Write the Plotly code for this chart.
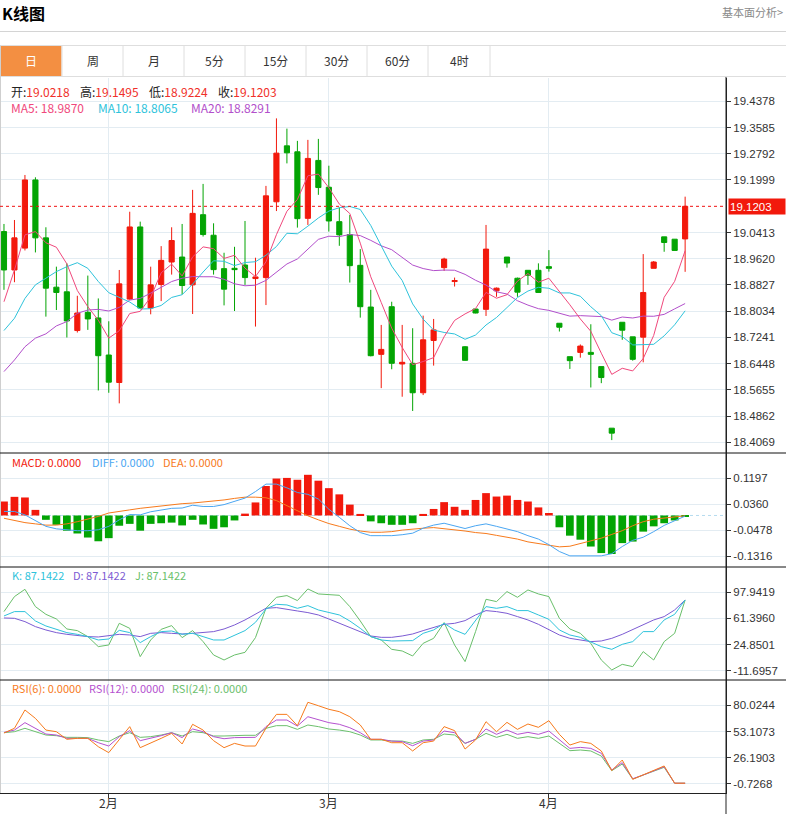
import plotly.graph_objects as go
import pandas as pd

# ---------------- data ----------------
opens = [19.044, 18.928, 18.994, 19.200, 19.025, 18.876, 18.862, 18.745, 18.800, 18.783,
         18.671, 18.588, 18.840, 19.058, 18.813, 18.884, 18.952, 18.967, 18.883, 19.095,
         19.033, 18.932, 18.933, 18.943, 18.902, 18.905, 19.134, 19.303, 19.285, 19.084,
         19.259, 19.178, 19.074, 19.035, 18.942, 18.816, 18.673, 18.817, 18.644, 18.646,
         18.557, 18.715, 18.935, 18.893, 18.696, 18.810, 18.809, 18.865, 18.967, 18.903,
         18.927, 18.927, 18.938, 18.767, 18.666, 18.679, 18.679, 18.636, 18.450, 18.770,
         18.726, 18.725, 18.933, 19.028, 19.021, 19.0218]
highs = [19.067, 19.079, 19.215, 19.208, 19.057, 18.938, 18.948, 18.850, 18.911, 18.842,
         18.773, 18.928, 19.104, 19.074, 18.938, 19.000, 19.057, 19.067, 19.170, 19.188,
         19.069, 18.980, 18.998, 19.076, 18.965, 19.182, 19.386, 19.355, 19.318, 19.321,
         19.324, 19.243, 19.117, 19.094, 18.991, 18.868, 18.762, 18.832, 18.762, 18.752,
         18.790, 18.780, 18.965, 18.905, 18.698, 18.810, 19.064, 18.875, 18.967, 18.905,
         18.927, 18.948, 18.988, 18.767, 18.666, 18.703, 18.764, 18.636, 18.450, 18.770,
         18.726, 18.976, 18.955, 19.028, 19.021, 19.1495]
lows = [18.868, 18.891, 18.987, 18.981, 18.787, 18.807, 18.724, 18.739, 18.747, 18.564,
        18.557, 18.525, 18.838, 18.811, 18.794, 18.834, 18.914, 18.854, 18.795, 19.029,
        18.914, 18.821, 18.804, 18.883, 18.757, 18.822, 19.106, 19.250, 19.056, 19.064,
        19.155, 19.044, 19.001, 18.890, 18.784, 18.667, 18.571, 18.628, 18.545, 18.502,
        18.550, 18.639, 18.925, 18.878, 18.654, 18.797, 18.789, 18.847, 18.935, 18.847,
        18.883, 18.860, 18.923, 18.742, 18.629, 18.663, 18.573, 18.586, 18.414, 18.717,
        18.654, 18.649, 18.933, 18.983, 18.987, 18.9224]
closes = [18.928, 19.025, 19.200, 19.025, 18.873, 18.860, 18.774, 18.798, 18.780, 18.669,
          18.589, 18.886, 19.058, 18.813, 18.883, 18.957, 19.017, 18.881, 19.099, 19.035,
          18.929, 18.870, 18.929, 18.905, 18.907, 19.152, 19.281, 19.282, 19.083, 19.265,
          19.177, 19.076, 19.034, 18.941, 18.817, 18.669, 18.688, 18.646, 18.649, 18.557,
          18.717, 18.747, 18.961, 18.896, 18.655, 18.798, 18.991, 18.873, 18.949, 18.861,
          18.912, 18.860, 18.933, 18.755, 18.654, 18.698, 18.673, 18.603, 18.435, 18.746,
          18.658, 18.860, 18.952, 19.011, 18.987, 19.1203]

# moving-average values at the start of the window
ma5_lead = [18.832, 18.928, 19.034, 19.044]
ma10_lead = [18.745, 18.782, 18.842, 18.883, 18.903, 18.923, 18.938, 18.950, 18.933]
ma20_lead = [18.621, 18.656, 18.696, 18.722, 18.735, 18.759, 18.772, 18.797, 18.807, 18.809,
             18.804, 18.815, 18.837, 18.842, 18.858, 18.875, 18.893, 18.903, 18.908]

macd_hist = [0.045, 0.060, 0.058, 0.018, -0.014, -0.030, -0.049, -0.058, -0.071, -0.083,
             -0.073, -0.033, -0.027, -0.049, -0.027, -0.025, -0.023, -0.032, -0.014, -0.029,
             -0.043, -0.038, -0.016, 0.006, 0.042, 0.095, 0.119, 0.121, 0.115, 0.131,
             0.112, 0.088, 0.068, 0.035, 0.005, -0.019, -0.025, -0.030, -0.030, -0.025,
             0.005, 0.021, 0.043, 0.028, 0.018, 0.050, 0.072, 0.061, 0.064, 0.050,
             0.045, 0.026, 0.008, -0.038, -0.065, -0.078, -0.100, -0.121, -0.124, -0.089,
             -0.084, -0.052, -0.035, -0.025, -0.016, -0.002]
diff_vals = [0.013, 0.013, 0.002, -0.016, -0.035, -0.043, -0.047, -0.049, -0.049, -0.046,
             -0.035, -0.014, 0.003, 0.002, 0.012, 0.018, 0.023, 0.024, 0.033, 0.029,
             0.029, 0.035, 0.045, 0.056, 0.077, 0.101, 0.101, 0.089, 0.074, 0.068,
             0.053, 0.020, -0.006, -0.033, -0.055, -0.065, -0.065, -0.065, -0.062, -0.057,
             -0.041, -0.031, -0.025, -0.033, -0.042, -0.033, -0.027, -0.035, -0.044, -0.052,
             -0.065, -0.076, -0.094, -0.116, -0.130, -0.130, -0.130, -0.130, -0.123, -0.100,
             -0.080, -0.070, -0.052, -0.032, -0.017, -0.002]
dea_vals = [-0.009, -0.017, -0.023, -0.027, -0.031, -0.031, -0.027, -0.020, -0.012, -0.003,
            0.008, 0.014, 0.018, 0.023, 0.027, 0.031, 0.034, 0.038, 0.040, 0.043,
            0.047, 0.050, 0.055, 0.059, 0.059, 0.057, 0.048, 0.031, 0.015, -0.001,
            -0.014, -0.026, -0.035, -0.044, -0.050, -0.054, -0.054, -0.052, -0.047, -0.043,
            -0.041, -0.039, -0.042, -0.046, -0.050, -0.055, -0.058, -0.064, -0.070, -0.076,
            -0.085, -0.091, -0.097, -0.101, -0.099, -0.091, -0.082, -0.073, -0.061, -0.049,
            -0.033, -0.020, -0.012, -0.008, -0.003, -0.001]

k_vals = [64.8, 70.9, 70.9, 57.8, 50.8, 46.6, 41.5, 39.1, 35.9, 31.2,
          32.6, 44.7, 41.5, 27.5, 35.9, 42.9, 43.8, 39.1, 40.5, 35.9,
          31.2, 31.2, 37.3, 44.3, 55.9, 74.6, 81.1, 80.2, 75.5, 79.3,
          73.2, 69.9, 66.2, 57.8, 47.5, 35.9, 31.2, 29.8, 29.8, 30.3,
          40.5, 45.2, 54.5, 45.2, 39.1, 59.2, 77.9, 75.5, 77.9, 72.3,
          72.3, 66.2, 60.1, 45.2, 38.2, 34.9, 28.9, 21.9, 18.1, 25.1,
          28.9, 42.9, 42.9, 59.2, 67.1, 87.1422]
d_vals = [62.0, 61.5, 56.9, 49.9, 45.2, 41.5, 39.1, 37.3, 35.9, 35.4,
          36.8, 39.1, 38.2, 35.9, 40.5, 41.5, 40.5, 39.6, 40.5, 41.5,
          42.9, 46.6, 52.2, 59.2, 67.1, 75.5, 76.5, 74.6, 71.8, 69.5,
          66.2, 60.6, 54.5, 48.5, 41.9, 36.8, 34.9, 34.9, 36.8, 39.6,
          44.3, 48.5, 53.1, 54.5, 58.3, 66.2, 72.3, 70.9, 68.5, 63.9,
          59.2, 53.1, 46.1, 38.2, 33.5, 30.7, 28.9, 29.8, 33.5, 39.1,
          46.1, 52.2, 59.2, 63.9, 73.2, 87.1422]
j_vals = [70.9, 91.9, 102.1, 77.9, 67.1, 60.6, 46.6, 44.3, 35.9, 21.9,
          24.2, 54.5, 47.5, 7.9, 31.2, 46.1, 51.3, 34.5, 44.3, 28.9,
          10.2, 3.2, 10.2, 13.9, 34.5, 75.5, 90.9, 93.3, 86.3, 102.6,
          95.6, 94.2, 93.7, 77.9, 57.8, 35.9, 31.2, 18.1, 15.8, 8.8,
          26.5, 33.5, 55.5, 24.2, 0.9, 42.9, 88.1, 84.9, 98.9, 90.9,
          101.2, 95.6, 91.9, 61.5, 46.6, 40.5, 26.5, 3.2, -10.8, -2.9,
          -6.1, 14.9, 3.2, 28.9, 40.5, 87.1422]

rsi6 = [51.6, 56.4, 75.2, 66.6, 54.6, 52.9, 45.1, 46.1, 46.1, 37.5,
        31.4, 44.4, 58.1, 36.5, 40.9, 46.1, 51.2, 40.3, 60.5, 54.6,
        43.7, 36.5, 40.9, 38.2, 38.2, 56.4, 70.7, 70.7, 59.1, 83.1,
        79.6, 75.9, 73.5, 68.3, 59.8, 45.1, 45.1, 41.6, 41.6, 33.1,
        41.6, 43.3, 58.1, 54.0, 35.1, 44.4, 63.2, 52.9, 62.5, 55.3,
        60.8, 57.4, 64.2, 50.2, 39.2, 42.7, 40.9, 33.1, 12.9, 23.8,
        4.0, 8.4, 12.5, 17.7, 0.0, 0.0]
rsi12 = [52.2, 54.6, 62.2, 56.4, 50.5, 49.5, 46.1, 46.1, 46.1, 41.6,
         38.2, 47.8, 54.0, 43.7, 46.1, 48.8, 51.9, 46.8, 55.7, 52.9,
         47.8, 45.7, 46.8, 46.8, 47.1, 58.1, 64.9, 64.9, 58.7, 68.3,
         65.6, 62.2, 60.5, 57.0, 51.9, 45.1, 45.1, 43.3, 42.7, 38.5,
         43.3, 44.4, 53.6, 51.9, 40.9, 45.1, 55.7, 50.2, 54.6, 50.2,
         52.2, 50.2, 53.6, 44.4, 35.8, 36.8, 35.8, 30.7, 13.6, 21.1,
         4.6, 8.4, 12.5, 17.0, 0.0, 0.0]
rsi24 = [51.9, 52.9, 56.4, 52.9, 49.5, 48.8, 47.1, 47.1, 46.8, 44.4,
         42.7, 48.5, 51.9, 47.1, 47.8, 49.5, 51.9, 48.5, 52.9, 51.9,
         48.5, 48.5, 49.2, 49.2, 49.2, 56.4, 59.1, 59.1, 55.3, 59.8,
         58.1, 55.7, 54.6, 52.9, 49.5, 44.4, 44.4, 43.3, 43.3, 40.9,
         44.4, 45.1, 50.5, 49.5, 40.9, 45.1, 51.2, 47.1, 50.2, 46.1,
         47.8, 46.1, 48.5, 40.9, 33.4, 34.1, 33.1, 27.9, 12.9, 19.7,
         4.3, 8.4, 12.5, 16.3, 0.0, 0.0]

# axis tick labels
price_ticks = [19.4378, 19.3585, 19.2792, 19.1999, 19.0413, 18.9620, 18.8827,
               18.8034, 18.7241, 18.6448, 18.5655, 18.4862, 18.4069]
macd_ticks = [0.1197, 0.0360, -0.0478, -0.1316]
kdj_ticks = [97.9419, 61.3960, 24.8501, -11.6957]
rsi_ticks = [80.0244, 53.1073, 26.1903, -0.7268]
tab_labels = ["日", "周", "月", "5分", "15分", "30分", "60分", "4时"]

# legend texts as shown in the picture
ma_legend = [("MA5", 18.9870), ("MA10", 18.8065), ("MA20", 18.8291)]
macd_legend = [("MACD", 0.0), ("DIFF", 0.0), ("DEA", 0.0)]
kdj_legend = [("K", 87.1422), ("D", 87.1422), ("J", 87.1422)]
rsi_legend = [("RSI(6)", 0.0), ("RSI(12)", 0.0), ("RSI(24)", 0.0)]

# ---------------- derived ----------------
dates = pd.bdate_range("2024-01-18", periods=len(closes))
xi = list(range(len(closes)))
month_idx = [i for i in range(1, len(dates)) if dates[i].month != dates[i - 1].month]
month_labels = [f"{dates[i].month}月" for i in month_idx]

s = pd.Series(closes)
ma5 = s.rolling(5).mean().tolist(); ma5[:len(ma5_lead)] = ma5_lead
ma10 = s.rolling(10).mean().tolist(); ma10[:len(ma10_lead)] = ma10_lead
ma20 = s.rolling(20).mean().tolist(); ma20[:len(ma20_lead)] = ma20_lead

# ---------------- style ----------------
RED = "#f2190c"
GREEN = "#03a403"
GRID = "#e3ecf2"
C_MA5, C_MA10, C_MA20 = "#f0487c", "#2ec3db", "#b24fcb"
C_DIFF, C_DEA = "#4aa6f2", "#f77a1c"
C_K, C_D, C_J = "#2ec3db", "#7c5bd3", "#69bf6a"
C_R6, C_R12, C_R24 = "#f77a1c", "#b552cf", "#6cc06c"
CJK = "Noto Sans CJK SC, Noto Sans, sans-serif"
NUM = "Liberation Sans, Arial, sans-serif"

PW, TOP, BOT = 726.0, 78.0, 793.0
PH = BOT - TOP


def pxx(px):
    return px / PW


def pxy(py):
    return (BOT - py) / PH


fig = go.Figure()

# main panel
fig.add_trace(go.Candlestick(
    x=xi, open=opens, high=highs, low=lows, close=closes,
    increasing=dict(line=dict(color=RED, width=1), fillcolor=RED),
    decreasing=dict(line=dict(color=GREEN, width=1), fillcolor=GREEN),
    whiskerwidth=0, xaxis="x", yaxis="y", hoverinfo="skip"))
for vals, col in [(ma20, C_MA20), (ma10, C_MA10), (ma5, C_MA5)]:
    fig.add_trace(go.Scatter(x=xi, y=vals, mode="lines", line=dict(color=col, width=1),
                             xaxis="x", yaxis="y", hoverinfo="skip"))

# MACD panel
fig.add_trace(go.Bar(x=xi, y=macd_hist, width=0.74,
                     marker=dict(color=[RED if v >= 0 else GREEN for v in macd_hist], line=dict(width=0)),
                     xaxis="x2", yaxis="y2", hoverinfo="skip"))
fig.add_trace(go.Scatter(x=xi, y=dea_vals, mode="lines", line=dict(color=C_DEA, width=1),
                         xaxis="x2", yaxis="y2", hoverinfo="skip"))
fig.add_trace(go.Scatter(x=xi, y=diff_vals, mode="lines", line=dict(color=C_DIFF, width=1),
                         xaxis="x2", yaxis="y2", hoverinfo="skip"))

# KDJ panel
for vals, col in [(j_vals, C_J), (d_vals, C_D), (k_vals, C_K)]:
    fig.add_trace(go.Scatter(x=xi, y=vals, mode="lines", line=dict(color=col, width=1),
                             xaxis="x3", yaxis="y3", hoverinfo="skip"))

# RSI panel
for vals, col in [(rsi24, C_R24), (rsi12, C_R12), (rsi6, C_R6)]:
    fig.add_trace(go.Scatter(x=xi, y=vals, mode="lines", line=dict(color=col, width=1),
                             xaxis="x4", yaxis="y4", hoverinfo="skip"))

XR = [-0.38, 68.9]
common_x = dict(range=XR, tickvals=month_idx, showgrid=True,
                gridcolor=GRID, gridwidth=1, zeroline=False, fixedrange=True,
                showticklabels=False)


def yax(domain, rng, ticks, anchor):
    return dict(domain=domain, range=rng, side="right", anchor=anchor,
                tickvals=ticks, ticktext=[f"{t:.4f}" for t in ticks],
                ticks="outside", ticklen=4, tickcolor="#333", showline=True,
                linecolor="#222", linewidth=1, showgrid=True, gridcolor=GRID,
                zeroline=False, fixedrange=True,
                tickfont=dict(family=NUM, size=11.5, color="#333"))


d_rsi = [0, pxy(680)]
d_kdj = [pxy(680), pxy(567)]
d_macd = [pxy(567), pxy(453)]
d_main = [pxy(453), 1]

shapes = []


def hline(py, x0=0, x1=786, color="#000", width=1, dash="solid"):
    shapes.append(dict(type="line", xref="paper", yref="paper", x0=pxx(x0), x1=pxx(x1),
                       y0=pxy(py), y1=pxy(py), line=dict(color=color, width=width, dash=dash)))


def vline(px, y0, y1, color="#000", width=1):
    shapes.append(dict(type="line", xref="paper", yref="paper", x0=pxx(px), x1=pxx(px),
                       y0=pxy(y0), y1=pxy(y1), line=dict(color=color, width=width)))


# header lines and tab bar
hline(31.5, color="#d4d4d4")
shapes.append(dict(type="rect", xref="paper", yref="paper", x0=pxx(1), x1=pxx(61.5),
                   y0=pxy(76), y1=pxy(46), fillcolor="#f38f42", line=dict(width=0), layer="below"))
hline(45.5, color="#dedede")
hline(76.5, color="#dedede")
tab_edges = [62, 123, 184, 245, 306, 367, 428, 490]
for e in tab_edges:
    vline(e, 45.5, 76.5, color="#dedede")
vline(0.5, 45.5, 793, color="#cfcfcf")

# panel separators and right axis line
hline(453, color="#111")
hline(567, color="#111")
hline(680, color="#111")
vline(PW, 77, 814, color="#222")

# last close dotted line and MACD zero line
shapes.append(dict(type="line", xref="paper", yref="y", x0=0, x1=1, y0=closes[-1], y1=closes[-1],
                   line=dict(color="#f01010", width=1, dash="dot")))
shapes.append(dict(type="line", xref="paper", yref="y2", x0=0, x1=1, y0=0, y1=0,
                   line=dict(color="#b5dcef", width=1, dash="dot"), layer="below"))

ann = []


def text(px, py, t, size=12, color="#333", family=CJK, xanchor="left"):
    ann.append(dict(xref="paper", yref="paper", x=pxx(px), y=pxy(py), text=t, showarrow=False,
                    xanchor=xanchor, yanchor="middle", font=dict(size=size, color=color, family=family)))


text(0, 13, "<b>K线图</b>", size=16, color="#000")
text(785, 12, "基本面分析>", size=11, color="#8a8a8a", xanchor="right")

edges = [0] + tab_edges
for i, lab in enumerate(tab_labels):
    cx = (edges[i] + edges[i + 1]) / 2
    text(cx, 61, lab, size=12, color="#fff" if i == 0 else "#333", xanchor="center")

VAL = "#f0302a"
ohlc = [("开", opens[-1], 9), ("高", highs[-1], 78), ("低", lows[-1], 147), ("收", closes[-1], 216)]
for lab, v, px in ohlc:
    text(px, 92, f"{lab}:<span style='color:{VAL}'>{v:.4f}</span>", color="#222")

for (lab, v), px, col in zip(ma_legend, [9, 96, 189], [C_MA5, C_MA10, C_MA20]):
    text(px, 107, f"{lab}: {v:.4f}", color=col)
for (lab, v), px, col in zip(macd_legend, [10, 90, 161], [RED, C_DIFF, C_DEA]):
    text(px, 462, f"{lab}: {v:.4f}", color=col, size=11)
for (lab, v), px, col in zip(kdj_legend, [10, 71, 133], [C_K, C_D, C_J]):
    text(px, 575, f"{lab}: {v:.4f}", color=col, size=11)
for (lab, v), px, col in zip(rsi_legend, [10, 87, 170], [C_R6, C_R12, C_R24]):
    text(px, 688, f"{lab}: {v:.4f}", color=col, size=11)

# month labels under the bottom axis
for i, lab in zip(month_idx, month_labels):
    ann.append(dict(xref="x4", yref="paper", x=i, y=pxy(802), text=lab, showarrow=False,
                    xanchor="center", yanchor="middle",
                    font=dict(size=12, color="#333", family=CJK)))

# last price tag on the axis
ann.append(dict(xref="paper", yref="y", x=1, y=closes[-1], xanchor="left", yanchor="middle",
                xshift=2, text=f"{closes[-1]:.4f}", showarrow=False, bgcolor=RED,
                font=dict(color="#fff", size=11.5, family=NUM), width=54, height=13,
                align="left", borderpad=1))

fig.update_layout(
    width=786, height=814,
    margin=dict(l=0, r=60, t=78, b=21, autoexpand=False),
    paper_bgcolor="white", plot_bgcolor="white",
    showlegend=False, hovermode=False,
    xaxis=dict(common_x, anchor="y", ticks="", rangeslider=dict(visible=False), domain=[0, 1]),
    xaxis2=dict(common_x, anchor="y2", matches="x", ticks="", domain=[0, 1]),
    xaxis3=dict(common_x, anchor="y3", matches="x", ticks="", domain=[0, 1]),
    xaxis4=dict(common_x, anchor="y4", matches="x", ticks="outside",
                ticklen=4, tickcolor="#333", showline=True, linecolor="#222", linewidth=1,
                domain=[0, 1]),
    yaxis=yax(d_main, [18.375, 19.508], price_ticks, "x"),
    yaxis2=yax(d_macd, [-0.1659, 0.2012], macd_ticks, "x2"),
    yaxis3=yax(d_kdj, [-24.8, 133.3], kdj_ticks, "x3"),
    yaxis4=yax(d_rsi, [-10.05, 106.0], rsi_ticks, "x4"),
    shapes=shapes, annotations=ann,
)

fig.write_html("out.html", config={"displayModeBar": False},
               post_script="document.body.style.margin='0';document.body.style.padding='0';")
